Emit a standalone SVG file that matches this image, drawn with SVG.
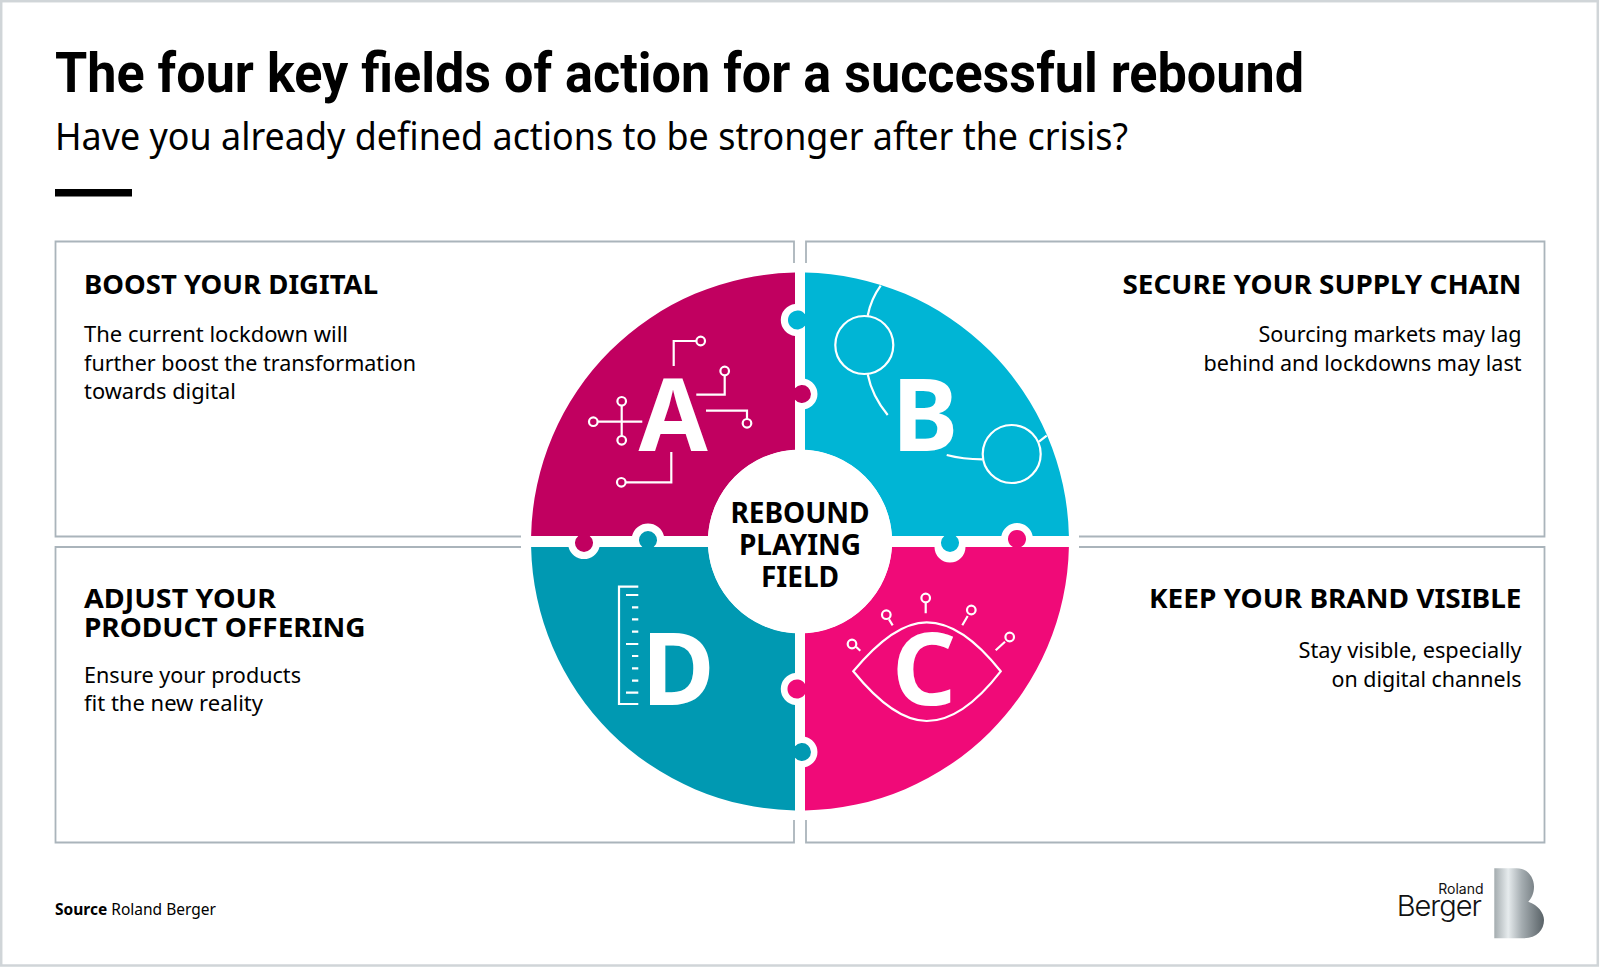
<svg xmlns="http://www.w3.org/2000/svg" width="1600" height="967" viewBox="0 0 1600 967">
<style>
text{font-family:"Noto Sans","Open Sans","Liberation Sans",sans-serif;fill:#000}
.h{font-size:27px;font-weight:700}
.b{font-size:22.5px;font-weight:400}
.r{text-anchor:end}
.c{font-size:28px;font-weight:700;text-anchor:middle}
.l{font-size:100px;font-weight:700;fill:#fff;text-anchor:middle}
.p{fill:none;stroke:#aab4bb;stroke-width:1.8}
.i{fill:none;stroke:#fff;stroke-width:2.2}
.f{font-family:"Inter","Liberation Sans",sans-serif;font-weight:300;fill:#111;text-anchor:end}
</style>
<defs>
<linearGradient id="metal" x1="0" x2="1" y1="0" y2="0">
<stop offset="0" stop-color="#a4acaf"/><stop offset=".28" stop-color="#e6ebed"/><stop offset=".55" stop-color="#a5adb1"/><stop offset="1" stop-color="#596267"/>
</linearGradient>
</defs>
<rect width="1600" height="967" fill="#fff"/>
<rect x="1.2" y="1.2" width="1596.6" height="964.3" fill="none" stroke="#d0d5d8" stroke-width="2.5"/>
<g id="header">
<text x="55" y="92" style="font-family:Roboto,'Noto Sans',sans-serif" font-size="56" font-weight="700" textLength="1249" lengthAdjust="spacingAndGlyphs" id="title">The four key fields of action for a successful rebound</text>
<text x="55" y="150" font-size="37.500" font-weight="400" textLength="1073" lengthAdjust="spacingAndGlyphs" id="subtitle">Have you already defined actions to be stronger after the crisis?</text>
<rect x="55" y="189" width="77" height="7.500" fill="#000"/>
</g>
<g id="panel-a">
<path class="p" d="M794 263V241.500H55.500V536.500H521"/>
<text class="h" x="84" y="294" textLength="294" lengthAdjust="spacingAndGlyphs">BOOST YOUR DIGITAL</text>
<text class="b" x="84" y="342" textLength="264" lengthAdjust="spacingAndGlyphs">The current lockdown will</text>
<text class="b" x="84" y="370.500" textLength="332" lengthAdjust="spacingAndGlyphs">further boost the transformation</text>
<text class="b" x="84" y="399" textLength="152" lengthAdjust="spacingAndGlyphs">towards digital</text>
</g>
<g id="panel-b">
<path class="p" d="M806 263V241.500H1544.500V536.500H1079"/>
<text class="h r" x="1521.500" y="294" textLength="399" lengthAdjust="spacingAndGlyphs">SECURE YOUR SUPPLY CHAIN</text>
<text class="b r" x="1521.500" y="342" textLength="263" lengthAdjust="spacingAndGlyphs">Sourcing markets may lag</text>
<text class="b r" x="1521.500" y="370.500" textLength="318" lengthAdjust="spacingAndGlyphs">behind and lockdowns may last</text>
</g>
<g id="panel-c">
<path class="p" d="M806 820V842.500H1544.500V547H1079"/>
<text class="h r" x="1521.500" y="608" textLength="372.500" lengthAdjust="spacingAndGlyphs">KEEP YOUR BRAND VISIBLE</text>
<text class="b r" x="1521.500" y="658" textLength="223" lengthAdjust="spacingAndGlyphs">Stay visible, especially</text>
<text class="b r" x="1521.500" y="686.500" textLength="190" lengthAdjust="spacingAndGlyphs">on digital channels</text>
</g>
<g id="panel-d">
<path class="p" d="M794 820V842.500H55.500V547H521"/>
<text class="h" x="84" y="608" textLength="192" lengthAdjust="spacingAndGlyphs">ADJUST YOUR</text>
<text class="h" x="84" y="636.500" textLength="281.600" lengthAdjust="spacingAndGlyphs">PRODUCT OFFERING</text>
<text class="b" x="84" y="683" textLength="217" lengthAdjust="spacingAndGlyphs">Ensure your products</text>
<text class="b" x="84" y="711" textLength="179" lengthAdjust="spacingAndGlyphs">fit the new reality</text>
</g>
<g id="quadrant-a">
<path fill="#c10060" d="M795 272.500V304.100A16 16 0 0 0 795 335.900V388.300A9 9 0 1 1 795 399.700V450A92 92 0 0 0 708 536H664A16.500 16.500 0 0 0 632 536H589.700A9 9 0 1 1 578.300 536H531.100A269 269 0 0 1 795 272.500Z"/>
<text class="l" x="673" y="451">A</text>
<path class="i" d="M673.700 366V341H696.400M696.300 394.700H724.700V375.300M706 410.700H747V419M598 421.700H642.300M621.700 405.600V436M671.300 452V482.300H625.600"/>
<circle class="i" cx="700.700" cy="341" r="4.300"/><circle class="i" cx="724.700" cy="371" r="4.300"/><circle class="i" cx="747" cy="423.300" r="4.300"/><circle class="i" cx="593.300" cy="421.700" r="4.300"/><circle class="i" cx="621.700" cy="401.300" r="4.300"/><circle class="i" cx="621.700" cy="440.300" r="4.300"/><circle class="i" cx="621.300" cy="482.300" r="4.300"/>
</g>
<g id="quadrant-b">
<path fill="#00b5d5" d="M805 272.500A269 269 0 0 1 1068.900 536H1032.700A16 16 0 0 0 1001.300 536H955.700A9 9 0 1 1 944.300 536H892A92 92 0 0 0 805 450V409.200A15.500 15.500 0 0 0 805 378.800V325.800A9.500 9.500 0 1 1 805 314.200Z"/>
<text class="l" x="925" y="451">B</text>
<circle class="i" cx="864.300" cy="345" r="29"/><circle class="i" cx="1011.700" cy="454" r="29"/>
<path class="i" d="M880.700 285.700Q871 299 867.700 315.700M867.700 374.300Q872 396 887.700 415M946.700 455Q963 459.300 982.300 459.300M1039 441.700L1046.700 435.700"/>
</g>
<g id="quadrant-c">
<path fill="#f00a78" d="M805 810.500A269 269 0 0 0 1068.900 547H1021.100A9 9 0 1 0 1012.900 547H965.500A15.500 15.500 0 0 1 934.500 547H892A92 92 0 0 1 805 633V683.900A9.500 9.500 0 1 0 805 694.100V736.800A15.500 15.500 0 0 1 805 767.200Z"/>
<text class="l" x="924" y="705">C</text>
<path class="i" d="M853.300 671.300C875 645 900 622.300 926.700 622.300C955 622.300 980 645 1000.700 671.300C980 698 955 721 926.700 721C900 721 875 698 853.300 671.300ZM925.700 602.700V613.300M967.700 616L962.300 625.300M1005 641.700L995.700 650.300M889 619.300L892.700 625.300M856 646.700L860.300 650.700"/>
<circle class="i" cx="925.700" cy="598" r="4.300"/><circle class="i" cx="971.300" cy="610" r="4.300"/><circle class="i" cx="1009.700" cy="637" r="4.300"/><circle class="i" cx="886.300" cy="614.700" r="4.300"/><circle class="i" cx="852" cy="644" r="4.300"/>
</g>
<g id="quadrant-d">
<path fill="#0099b2" d="M795 810.500A269 269 0 0 1 531.100 547H568.500A16 16 0 0 0 599.500 547H642.300A9 9 0 1 1 653.700 547H708A92 92 0 0 0 795 633V673.100A16 16 0 0 0 795 704.900V746.300A9 9 0 1 1 795 757.700Z"/>
<text class="l" x="678" y="705">D</text>
<path class="i" d="M638.300 586.700H619V704H638.300M626 595H638.300M632 607.300H638.300M632 619.300H638.300M632 631.700H638.300M626 644H638.300M632 656H638.300M632 668.300H638.300M632 680.700H638.300M626 692.700H638.300"/>
</g>
<g id="center">
<circle cx="800" cy="541.500" r="92" fill="#fff"/>
<text class="c" x="800" y="523">REBOUND</text>
<text class="c" x="800" y="555">PLAYING</text>
<text class="c" x="800" y="587">FIELD</text>
</g>
<g id="footer">
<text x="55" y="915" font-size="16" textLength="161" lengthAdjust="spacingAndGlyphs"><tspan font-weight="700">Source</tspan> Roland Berger</text>
<text class="f" x="1483.500" y="893.500" font-size="14" style="font-weight:400">Roland</text>
<text class="f" x="1481" y="915.500" font-size="29" letter-spacing="-1">Berger</text>
<path fill="url(#metal)" d="M1494.300 868.300H1516.700C1528 868.300 1534 878 1534 886.700C1534 893 1531.700 898 1528.300 901.700C1538.300 905 1544 913.300 1544 920C1544 930 1536.700 938.300 1523.300 938.300H1494.300Z"/>
</g>
</svg>
